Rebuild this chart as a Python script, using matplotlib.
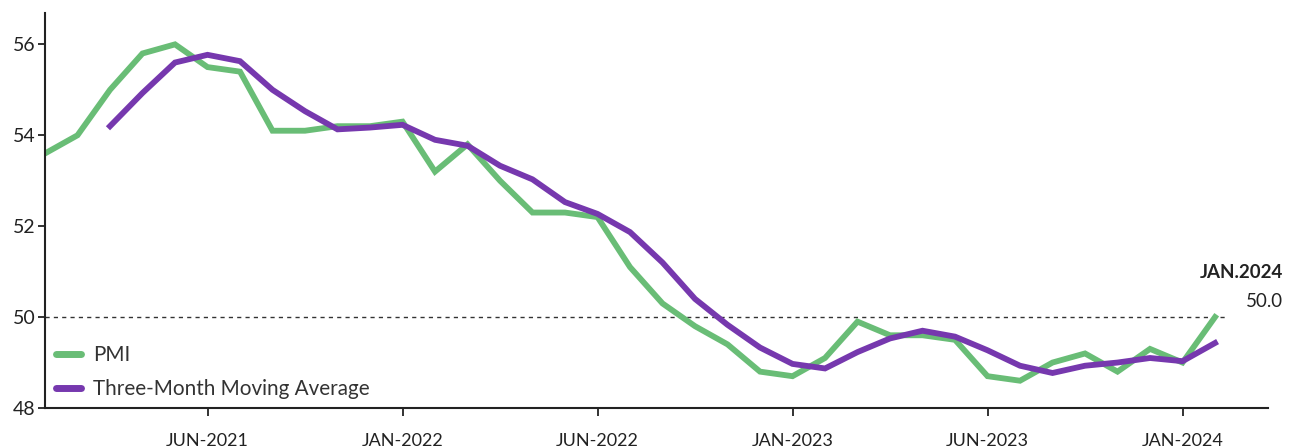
import matplotlib
matplotlib.use("Agg")
import matplotlib.pyplot as plt
from matplotlib.lines import Line2D

plt.rcParams['font.family'] = ['Lato', 'DejaVu Sans']

# Data (monthly index positions)
pmi = [53.6, 54.0, 55.0, 55.8, 56.0, 55.5, 55.4, 54.1, 54.1, 54.2, 54.2, 54.3,
       53.2, 53.8, 53.0, 52.3, 52.3, 52.2, 51.1, 50.3, 49.8, 49.4, 48.8, 48.7,
       49.1, 49.9, 49.6, 49.6, 49.5, 48.7, 48.6, 49.0, 49.2, 48.8, 49.3, 49.0, 50.0]
ma3 = [None, None, 54.2, 54.93, 55.6, 55.77, 55.63, 55.0, 54.53, 54.13, 54.17, 54.23,
       53.9, 53.77, 53.33, 53.03, 52.53, 52.27, 51.87, 51.2, 50.4, 49.83, 49.33, 48.97,
       48.87, 49.23, 49.53, 49.7, 49.57, 49.27, 48.93, 48.77, 48.93, 49.0, 49.1, 49.03, 49.43]
tick_pos = [5, 11, 17, 23, 29, 35]
tick_labels = ["JUN-2021", "JAN-2022", "JUN-2022", "JAN-2023", "JUN-2023", "JAN-2024"]
y_ticks = [48, 50, 52, 54, 56]
last_label = "JAN.2024"
last_value = "50.0"

green = "#69BD76"
purple = "#7638AE"

fig = plt.figure(figsize=(13, 4.48), dpi=100)
ax = fig.add_axes([45/1300, 1-408/448, (1268-45)/1300, (408-13)/448])

x = list(range(len(pmi)))
ma_x = [i for i, v in enumerate(ma3) if v is not None]
ma_y = [v for v in ma3 if v is not None]

ax.plot([0, 36.4], [50, 50], linestyle=(0, (3, 3)), color="#333333", linewidth=1.0, zorder=1)
ax.plot(x, pmi, color=green, linewidth=4.2, solid_joinstyle='miter', zorder=2)
ax.plot(ma_x, ma_y, color=purple, linewidth=4.2, solid_joinstyle='miter', zorder=3)

ax.set_xlim(0, 37.63)
ax.set_ylim(48, 56.69)
ax.set_xticks(tick_pos)
ax.set_xticklabels(tick_labels)
ax.set_yticks(y_ticks)
ax.set_yticklabels([str(v) for v in y_ticks])

for s in ['top', 'right']:
    ax.spines[s].set_visible(False)
for s in ['left', 'bottom']:
    ax.spines[s].set_linewidth(1.5)
    ax.spines[s].set_color("#222222")

ax.tick_params(axis='x', direction='out', length=6, width=1.3, colors="#222222",
               labelsize=13, pad=12)
ax.tick_params(axis='y', direction='out', length=5, width=1.3, colors="#222222",
               labelsize=14, pad=2)

handles = [Line2D([0], [0], color=green, linewidth=5, solid_capstyle='round'),
           Line2D([0], [0], color=purple, linewidth=5, solid_capstyle='round')]
leg = ax.legend(handles, ["PMI", "Three-Month Moving Average"], loc='upper left',
                bbox_to_anchor=(0.009, 0.16), frameon=False, fontsize=14.9,
                handlelength=1.2, handletextpad=0.6, labelspacing=0.7,
                borderaxespad=0, borderpad=0)
for t in leg.get_texts():
    t.set_color("#333333")

fig.text(1283/1300, 1-273/448, last_label, ha='right', va='center', fontsize=13.5,
         fontweight='bold', color="#222222")
fig.text(1283/1300, 1-301.5/448, last_value, ha='right', va='center', fontsize=13.5,
         color="#222222")

fig.savefig("out.png", dpi=100)
